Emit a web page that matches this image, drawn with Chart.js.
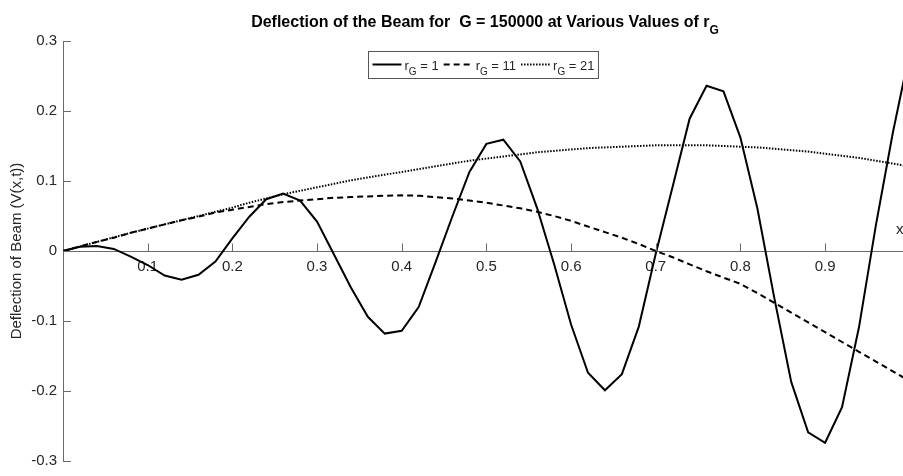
<!DOCTYPE html>
<html>
<head>
<meta charset="utf-8">
<script src="https://cdn.jsdelivr.net/npm/chart.js@4.4.1/dist/chart.umd.min.js"></script>
<style>
  html, body { margin: 0; padding: 0; background: #fff; }
  #wrap { width: 903px; height: 476px; }
</style>
</head>
<body>
<div id="wrap"><canvas id="beamChart" width="903" height="476"></canvas></div>
<script>
// sample positions along the beam
const xValues = [
  0, 0.02, 0.04, 0.06, 0.08, 0.10, 0.12, 0.14, 0.16, 0.18,
  0.20, 0.22, 0.24, 0.26, 0.28, 0.30, 0.32, 0.34, 0.36, 0.38,
  0.40, 0.42, 0.44, 0.46, 0.48, 0.50, 0.52, 0.54, 0.56, 0.58,
  0.60, 0.62, 0.64, 0.66, 0.68, 0.70, 0.72, 0.74, 0.76, 0.78,
  0.80, 0.82, 0.84, 0.86, 0.88, 0.90, 0.92, 0.94, 0.96, 0.98,
  1.00
];

const rGValues = [1, 11, 21];

// deflection for rG = 1
const rG1 = [
  0, 0.006, 0.007, 0.003, -0.008, -0.020, -0.035, -0.041, -0.034, -0.015,
  0.018, 0.049, 0.074, 0.082, 0.072, 0.042, -0.005, -0.052, -0.094, -0.118,
  -0.114, -0.080, -0.016, 0.050, 0.113, 0.153, 0.159, 0.128, 0.061, -0.019,
  -0.105, -0.174, -0.199, -0.176, -0.108, -0.004, 0.092, 0.189, 0.236, 0.228,
  0.162, 0.061, -0.067, -0.187, -0.259, -0.274, -0.223, -0.109, 0.037, 0.169,
  0.285
];

// deflection for rG = 11
const rG11 = [
  0, 0.0065, 0.013, 0.019, 0.026, 0.032, 0.038, 0.044, 0.049, 0.055,
  0.059, 0.063, 0.067, 0.070, 0.072, 0.074, 0.076, 0.077, 0.078, 0.079,
  0.0795, 0.079, 0.077, 0.075, 0.072, 0.069, 0.065, 0.061, 0.056, 0.050,
  0.043, 0.035, 0.027, 0.019, 0.010, 0.000, -0.009, -0.019, -0.029, -0.038,
  -0.047, -0.060, -0.074, -0.088, -0.102, -0.116, -0.130, -0.144, -0.158, -0.172,
  -0.186
];

// deflection for rG = 21
const rG21 = [
  0, 0.0065, 0.013, 0.0195, 0.026, 0.032, 0.038, 0.044, 0.050, 0.056,
  0.062, 0.069, 0.075, 0.081, 0.086, 0.091, 0.096, 0.101, 0.105, 0.109,
  0.113, 0.117, 0.121, 0.125, 0.129, 0.132, 0.135, 0.138, 0.141, 0.143,
  0.145, 0.147, 0.148, 0.149, 0.150, 0.151, 0.151, 0.151, 0.151, 0.150,
  0.149, 0.148, 0.146, 0.144, 0.142, 0.139, 0.136, 0.133, 0.129, 0.125,
  0.121
];

const FONT = '"Liberation Sans", Arial, Helvetica, sans-serif';
const axisColor = '#6b6b6b';
const textColor = '#262626';
const dashes = [[], [6, 4], [1.5, 1.5]];

Chart.defaults.font.family = FONT;

const fmt = (v) => {
  const r = Math.round(v * 10) / 10;
  return r === 0 ? '0' : r.toString();
};

// draws text pieces one after another (used for the subscripts), returns the width
const drawRich = (ctx, x, base, parts, measureOnly) => {
  let w = 0;
  parts.forEach((p) => {
    ctx.font = p.font;
    if (!measureOnly) ctx.fillText(p.t, x + w, base + (p.dy || 0));
    w += ctx.measureText(p.t).width;
  });
  return w;
};

const beamDecor = {
  id: 'beamDecor',
  afterDraw(chart) {
    const { ctx, chartArea, scales: { x, y } } = chart;
    const zeroY = Math.round(y.getPixelForValue(0)) + 0.5;
    ctx.save();

    // inner tick marks, matlab style
    ctx.strokeStyle = axisColor;
    ctx.lineWidth = 1;
    ctx.beginPath();
    x.ticks.forEach((t) => {
      if (t.value === 0) return;
      const px = Math.round(x.getPixelForValue(t.value)) + 0.5;
      ctx.moveTo(px, zeroY);
      ctx.lineTo(px, zeroY - 8);
    });
    y.ticks.forEach((t) => {
      const py = Math.round(y.getPixelForValue(t.value)) + 0.5;
      ctx.moveTo(chartArea.left, py);
      ctx.lineTo(chartArea.left + 8, py);
    });
    ctx.stroke();

    ctx.fillStyle = textColor;
    ctx.textBaseline = 'alphabetic';
    ctx.textAlign = 'left';

    // x label at the end of the axis
    ctx.font = '15px ' + FONT;
    ctx.fillText('x', chartArea.right - 7, zeroY - 18);

    // title with subscript
    const tParts = [
      { t: 'Deflection of the Beam for  G = 150000 at Various Values of r', font: 'bold 16px ' + FONT },
      { t: 'G', font: 'bold 12px ' + FONT, dy: 7 }
    ];
    const tw = drawRich(ctx, 0, 0, tParts, true);
    ctx.fillStyle = '#000';
    drawRich(ctx, (chartArea.left + chartArea.right) / 2 - tw / 2 + 2, 26.5, tParts, false);

    // legend inside the plot
    const lf = '13px ' + FONT;
    const sf = '10px ' + FONT;
    const sample = 29, gap = 3, between = 5, padL = 4, padR = 4;
    const partsFor = (v) => [
      { t: 'r', font: lf }, { t: 'G', font: sf, dy: 5 }, { t: ' = ' + v, font: lf }
    ];
    const widths = rGValues.map((v) => drawRich(ctx, 0, 0, partsFor(v), true));
    const total = padL + padR + widths.reduce((a, w) => a + sample + gap + w, 0) + between * (rGValues.length - 1);
    const boxX = Math.round((chartArea.left + chartArea.right) / 2 - total / 2) + 0.5;
    const boxY = Math.round(chartArea.top + 10) + 0.5;
    const boxH = 27;
    ctx.fillStyle = '#fff';
    ctx.fillRect(boxX, boxY, total, boxH);
    ctx.strokeStyle = '#555';
    ctx.lineWidth = 1;
    ctx.setLineDash([]);
    ctx.strokeRect(boxX, boxY, total, boxH);

    let cx = boxX + padL;
    rGValues.forEach((v, i) => {
      ctx.strokeStyle = '#000';
      ctx.lineWidth = 2;
      ctx.setLineDash(dashes[i]);
      ctx.beginPath();
      ctx.moveTo(cx, boxY + 13);
      ctx.lineTo(cx + sample, boxY + 13);
      ctx.stroke();
      cx += sample + gap;
      ctx.fillStyle = textColor;
      drawRich(ctx, cx, boxY + 18.5, partsFor(v), false);
      cx += widths[i] + between;
    });
    ctx.restore();
  }
};

const ctx = document.getElementById('beamChart');
const series = [rG1, rG11, rG21];

new Chart(ctx, {
  type: 'line',
  data: {
    datasets: series.map((vals, i) => ({
      label: 'rG = ' + rGValues[i],
      data: xValues.map((xv, j) => ({ x: xv, y: vals[j] })),
      borderColor: '#000',
      borderWidth: 2,
      borderDash: dashes[i],
      pointRadius: 0,
      tension: 0,
      fill: false
    }))
  },
  options: {
    responsive: false,
    animation: false,
    layout: { padding: { top: 41, right: 0, bottom: 11, left: 0 } },
    plugins: {
      legend: { display: false },
      title: { display: false },
      tooltip: { enabled: false }
    },
    scales: {
      x: {
        type: 'linear',
        position: { y: 0 },
        min: 0,
        max: 0.992,
        grid: { display: true, drawOnChartArea: false, drawTicks: false },
        border: { display: true, color: axisColor, width: 1 },
        ticks: {
          stepSize: 0.1,
          includeBounds: false,
          autoSkip: false,
          maxRotation: 0,
          padding: 7,
          color: textColor,
          font: { size: 15 },
          callback: (v) => (v === 0 ? '' : fmt(v))
        }
      },
      y: {
        type: 'linear',
        position: 'left',
        min: -0.3,
        max: 0.3,
        grid: { display: true, drawOnChartArea: false, drawTicks: false },
        border: { display: true, color: axisColor, width: 1 },
        ticks: {
          stepSize: 0.1,
          padding: 6,
          color: textColor,
          font: { size: 15 },
          callback: (v) => fmt(v)
        },
        title: {
          display: true,
          text: 'Deflection of Beam (V(x,t))',
          color: textColor,
          font: { size: 15 },
          padding: { top: 8, bottom: 0 }
        },
        afterFit: (s) => { s.width = 63; }
      }
    }
  },
  plugins: [beamDecor]
});
</script>
</body>
</html>
